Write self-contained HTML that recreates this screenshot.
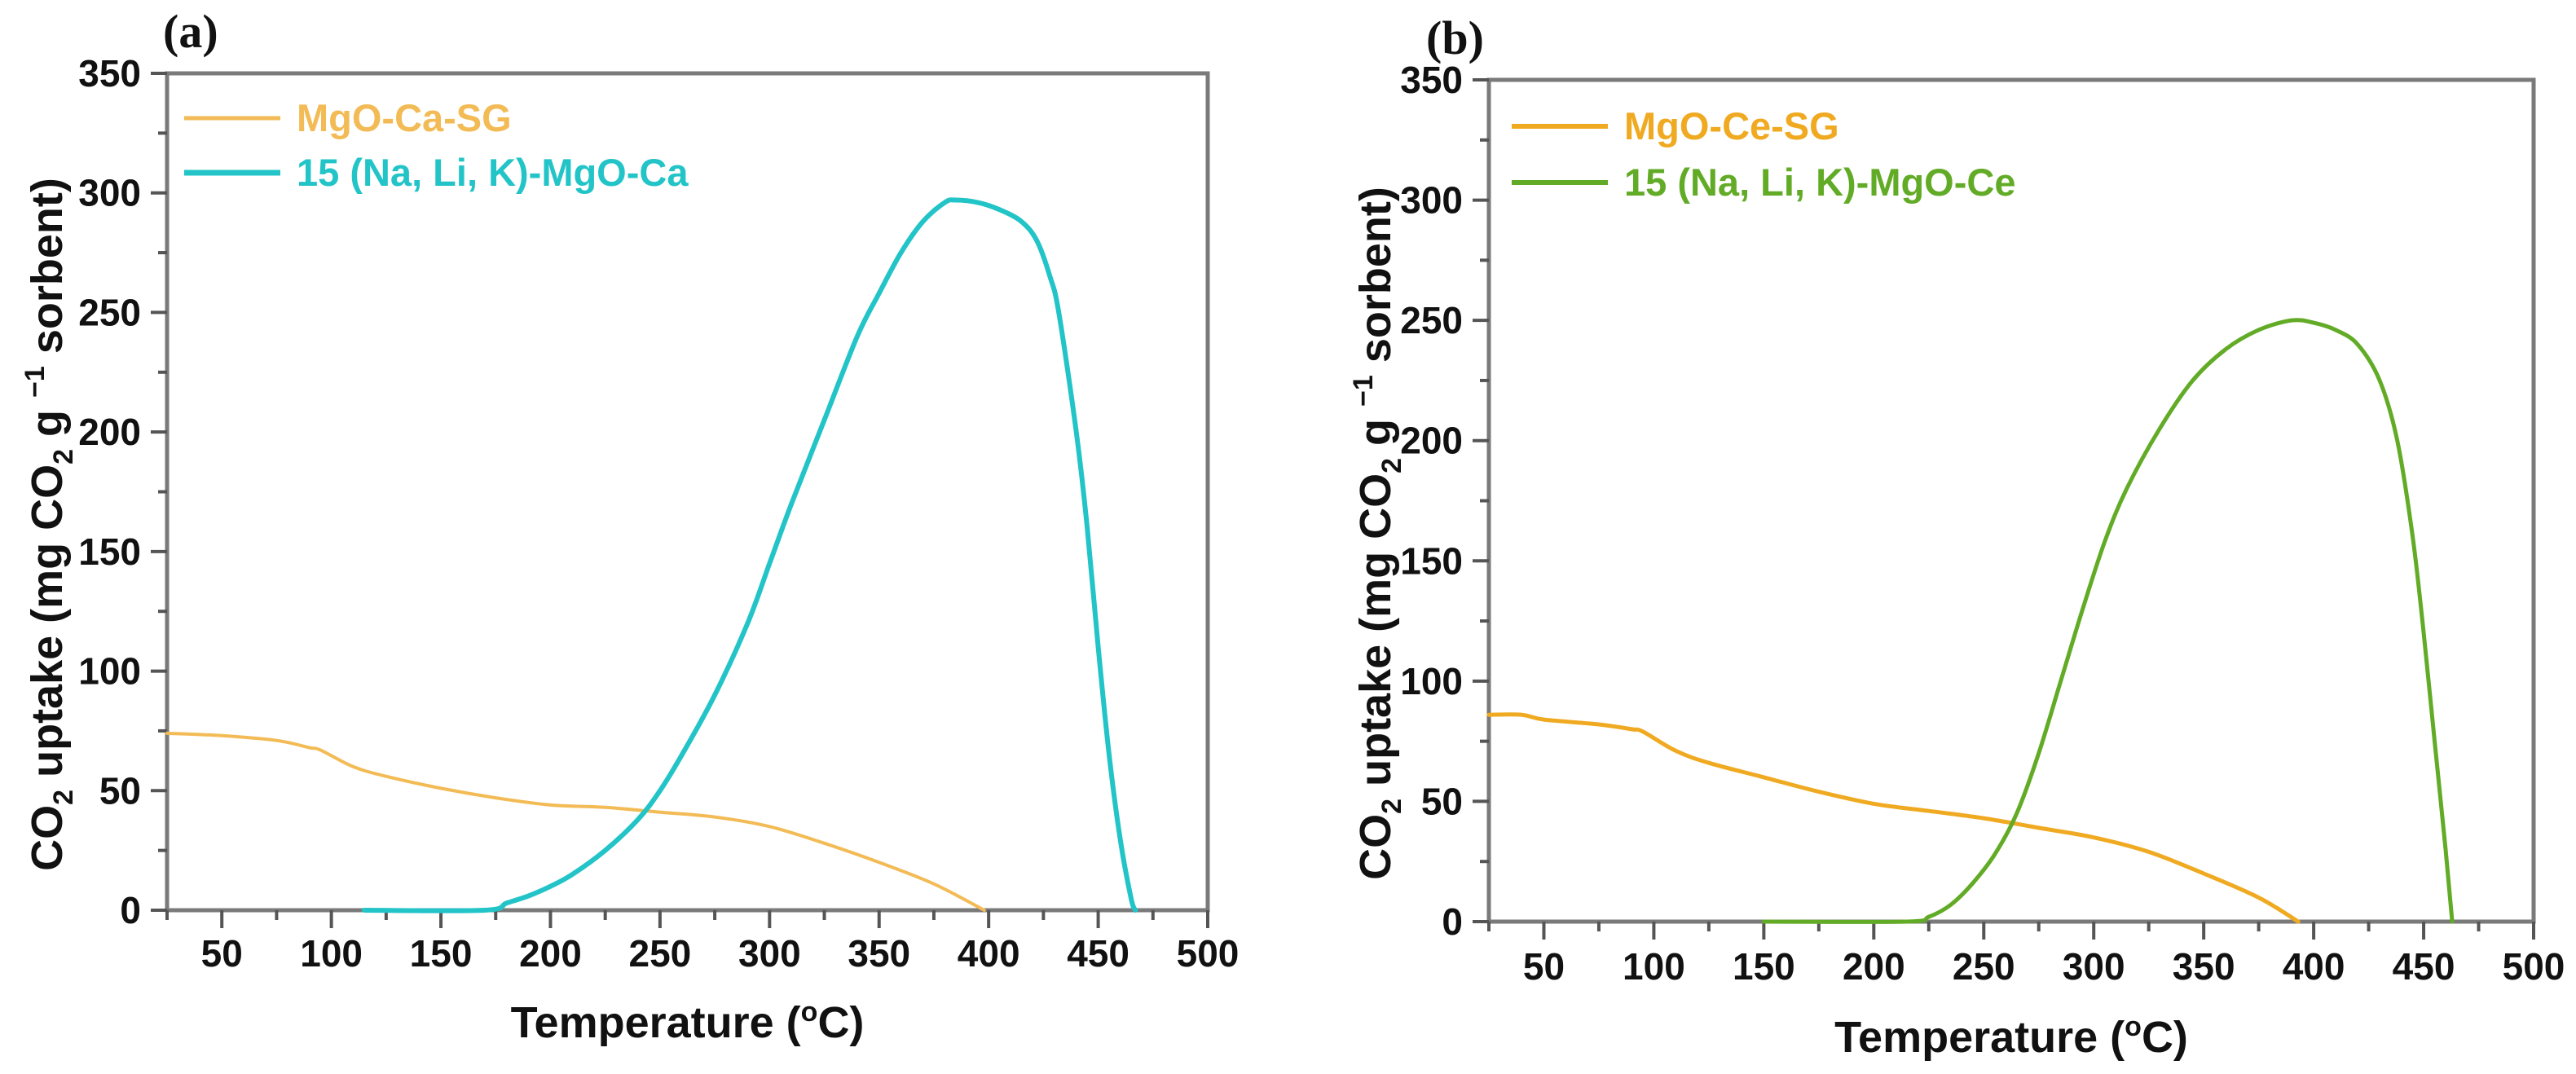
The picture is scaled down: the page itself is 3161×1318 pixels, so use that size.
<!DOCTYPE html>
<html><head><meta charset="utf-8"><style>
html,body{margin:0;padding:0;background:#fff;}
svg{display:block;font-family:"Liberation Sans",Arial,sans-serif;}
</style></head><body>
<svg id="fig" width="3161" height="1318" viewBox="0 0 3161 1318" xmlns="http://www.w3.org/2000/svg"></svg>
<script>
const xTicks=[50,100,150,200,250,300,350,400,450,500];
const yTicks=[0,50,100,150,200,250,300,350];
const aOrangeX=[25,50,75,90,95,110,125,150,175,200,225,250,275,300,325,350,375,398];
const aOrangeY=[74,73,71,68,67,60,56,51,47,44,43,41,39,35,28,20,11,0];
const aCyanX=[115,170,180,190,200,210,225,240,250,260,275,290,300,310,325,340,350,360,370,380,385,395,405,415,422,428,432,440,445,450,455,460,465,467];
const aCyanY=[0,0,3,6,10,15,25,38,50,65,90,120,145,170,205,240,258,275,288,296,297,296,293,288,280,265,250,200,160,110,65,30,5,0];
const bOrangeX=[25,40,50,75,90,95,110,125,150,175,200,225,250,275,300,325,350,375,393];
const bOrangeY=[86,86,84,82,80,79,71,66,60,54,49,46,43,39,35,29,20,10,0];
const bGreenX=[150,215,225,235,245,255,265,275,285,295,305,315,330,345,360,375,390,400,410,420,430,438,445,450,455,460,463];
const bGreenY=[0,0,2,7,16,28,45,70,100,130,158,180,205,225,238,246,250,249,246,240,225,200,160,120,75,30,0];

const NS="http://www.w3.org/2000/svg";
const svg=document.getElementById('fig');
function mk(tag,attrs,parent){const e=document.createElementNS(NS,tag);for(const k in attrs)e.setAttribute(k,attrs[k]);(parent||svg).appendChild(e);return e;}
function smooth(pts){
  let d='M'+pts[0][0].toFixed(1)+','+pts[0][1].toFixed(1);
  for(let i=0;i<pts.length-1;i++){
    const p0=pts[Math.max(0,i-1)],p1=pts[i],p2=pts[i+1],p3=pts[Math.min(pts.length-1,i+2)];
    const c1=[p1[0]+(p2[0]-p0[0])/6,p1[1]+(p2[1]-p0[1])/6];
    const c2=[p2[0]-(p3[0]-p1[0])/6,p2[1]-(p3[1]-p1[1])/6];
    d+=` C${c1[0].toFixed(1)},${c1[1].toFixed(1)} ${c2[0].toFixed(1)},${c2[1].toFixed(1)} ${p2[0].toFixed(1)},${p2[1].toFixed(1)}`;
  }
  return d;
}

function panel(P){
  const g=mk('g',{});
  
  
  const sx=v=>P.l+(v-25)/(500-25)*(P.r-P.l);
  const sy=v=>P.b-v/350*(P.b-P.t);
  const fr=mk('rect',{x:P.l,y:P.t,width:P.r-P.l,height:P.b-P.t,fill:'none',stroke:'#7a7a7a','stroke-width':5},g);
  
  
  for(let v=25;v<=500;v+=25){
    const major=v%50===0;
    const t=mk('line',{x1:sx(v),x2:sx(v),y1:P.b,y2:P.b+(major?22:12),stroke:'#555','stroke-width':4},g);
    
    
  }
  xTicks.forEach(v=>{
    const t=mk('text',{x:sx(v),y:P.b+P.xlOff,'font-size':46,'font-weight':'bold','text-anchor':'middle',fill:'#111'},g);
    t.textContent=v;
    
    
  });
  for(let v=0;v<=350;v+=25){
    const major=v%50===0;
    const t=mk('line',{x1:P.l,x2:P.l-(major?20:11),y1:sy(v),y2:sy(v),stroke:'#555','stroke-width':4},g);
    
    
  }
  yTicks.forEach(v=>{
    const t=mk('text',{x:P.l-32,y:sy(v)+16,'font-size':46,'font-weight':'bold','text-anchor':'end',fill:'#111'},g);
    t.textContent=v;
    
    
  });
  const xt=mk('text',{x:(P.l+P.r)/2,y:P.b+P.xtOff,'font-size':54,'font-weight':'bold','text-anchor':'middle',fill:'#111'},g);
  xt.innerHTML='Temperature (<tspan font-size="34" dy="-20">o</tspan><tspan dy="20">C)</tspan>';
  
  
  const yt=mk('text',{x:0,y:0,transform:`translate(${P.yx},${(P.t+P.b)/2+40}) rotate(-90)`,'font-size':54,'font-weight':'bold','text-anchor':'middle',fill:'#111'},g);
  yt.innerHTML='CO<tspan font-size="34" dy="13">2</tspan><tspan dy="-13"> uptake (mg CO</tspan><tspan font-size="34" dy="13">2</tspan><tspan dy="-13">  g </tspan><tspan font-size="34" dy="-22">&#8722;1</tspan><tspan dy="22">  sorbent)</tspan>';
  
  
  const lab=mk('text',{x:P.labX,y:P.t-32,'font-size':58,'font-weight':'bold','font-family':'Liberation Serif,serif',fill:'#111'},g);
  lab.textContent=P.label;
  
  
  P.series.forEach(s=>{
    const pts=s.x.map((v,i)=>[sx(v),sy(s.y[i])]);
    const p=mk('path',{d:smooth(pts),fill:'none',stroke:s.color,'stroke-width':s.w,'stroke-linejoin':'round','stroke-linecap':'round'},g);
    
    
    const ll=mk('line',{x1:P.legX,x2:P.legX+118,y1:s.ly,y2:s.ly,stroke:s.color,'stroke-width':s.w+1},g);
    
    
    const lt=mk('text',{x:P.legX+138,y:s.ly+16,'font-size':47,'font-weight':'bold',fill:s.color},g);
    lt.textContent=s.label;
    
    
  });
}
panel({name:'panel-a',l:205,r:1482,t:90,b:1117,yx:76,labX:200,legX:226,label:'(a)',xlOff:69,xtOff:156,series:[
  {id:'series-mgo-ca-sg',x:aOrangeX,y:aOrangeY,color:'#f3bb55',w:4,label:'MgO-Ca-SG',ly:145},
  {id:'series-15-nalik-mgo-ca',x:aCyanX,y:aCyanY,color:'#22c4c8',w:6,label:'15 (Na, Li, K)-MgO-Ca',ly:212}]});
panel({name:'panel-b',l:1827,r:3109,t:98,b:1131,yx:1706,labX:1750,legX:1855,label:'(b)',xlOff:71,xtOff:160,series:[
  {id:'series-mgo-ce-sg',x:bOrangeX,y:bOrangeY,color:'#f0aa22',w:5,label:'MgO-Ce-SG',ly:155},
  {id:'series-15-nalik-mgo-ce',x:bGreenX,y:bGreenY,color:'#62ab26',w:5,label:'15 (Na, Li, K)-MgO-Ce',ly:224}]});
</script>
</body></html>
